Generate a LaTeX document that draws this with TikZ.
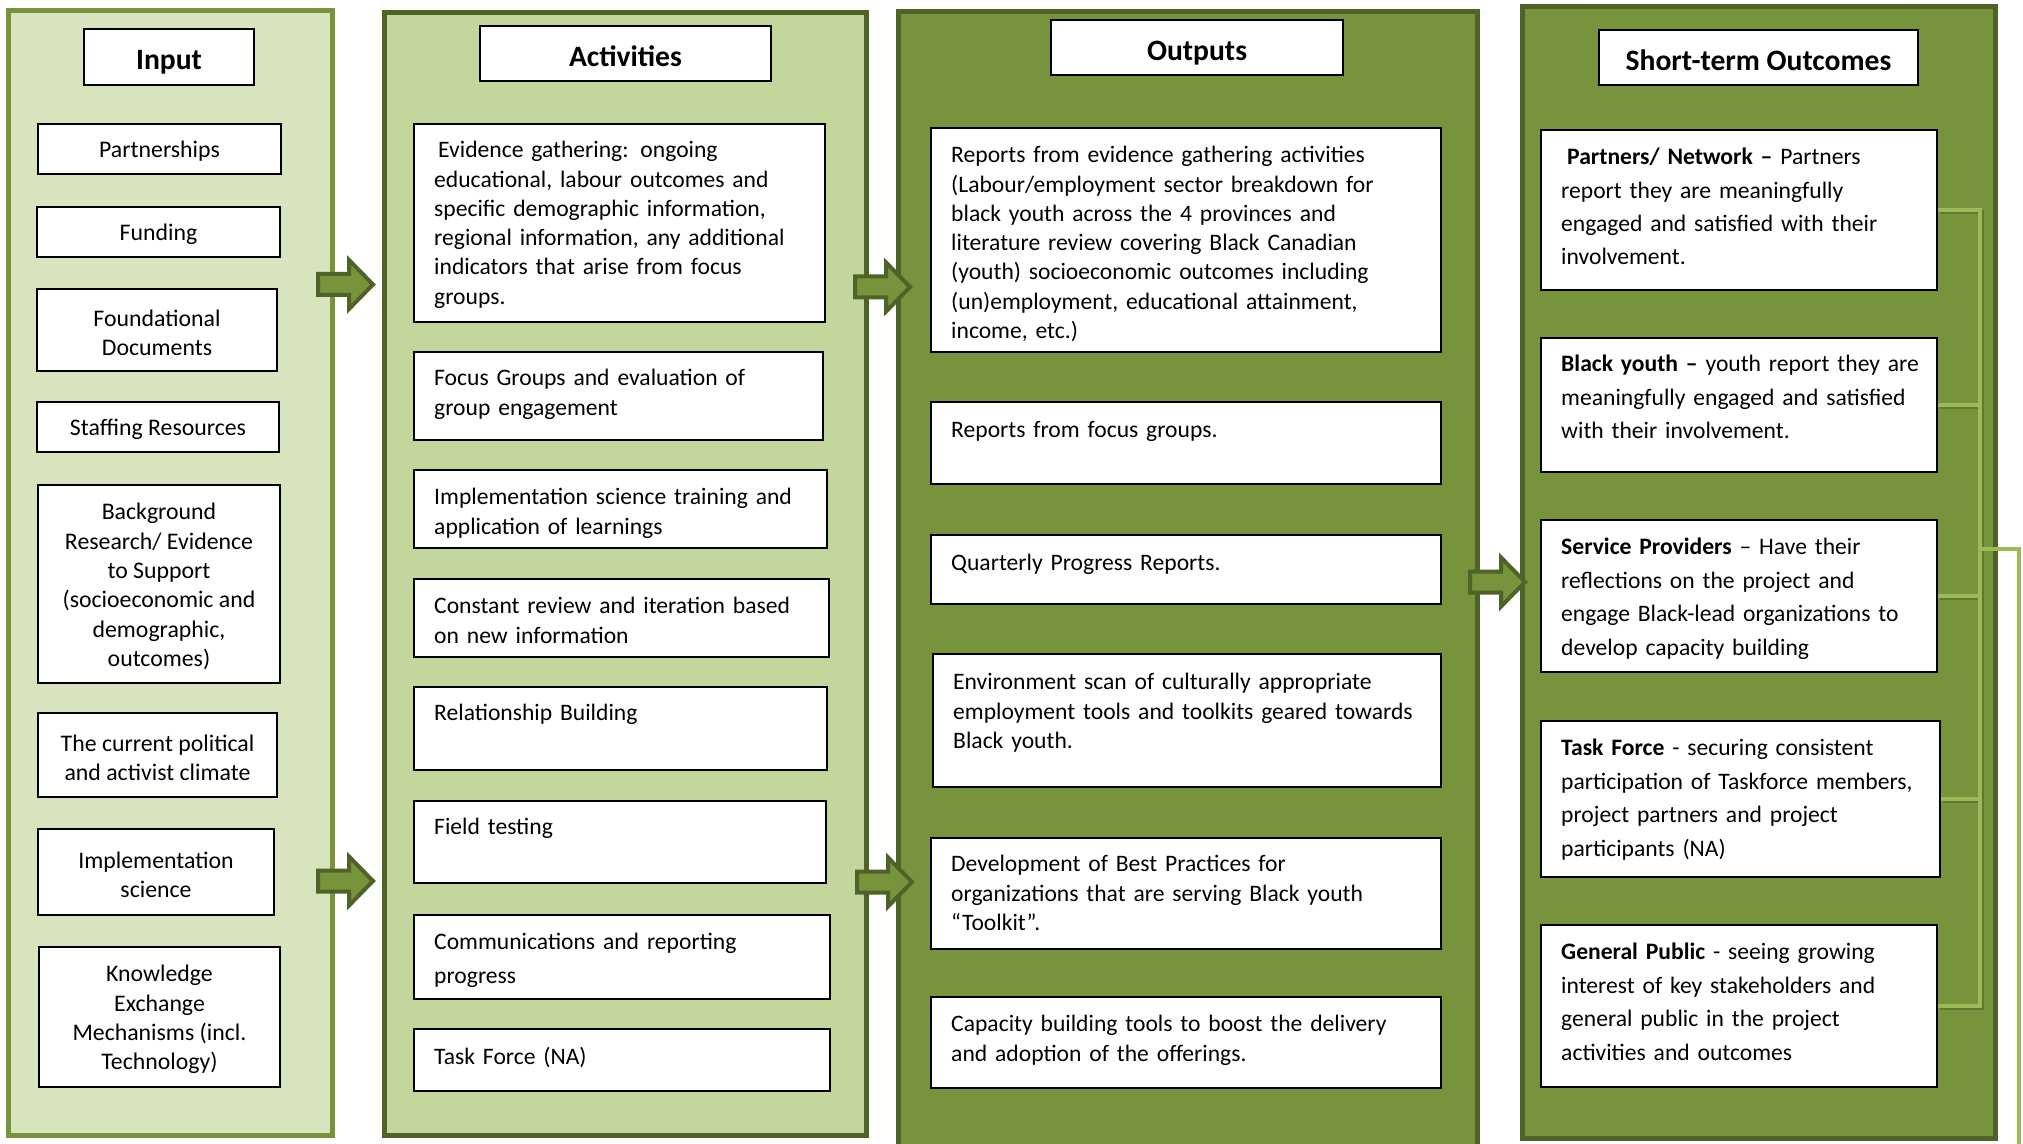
\documentclass[tikz,border=0pt]{standalone}
\usepackage{fontspec}
\setmainfont{Carlito}
\usetikzlibrary{calc}

\definecolor{inFill}{HTML}{D7E4BD}
\definecolor{actFill}{HTML}{C3D69B}
\definecolor{midGreen}{HTML}{77933C}
\definecolor{darkGreen}{HTML}{4F6228}
\definecolor{lightGreen}{HTML}{9BBB59}

\tikzset{
  colIn/.style={draw=midGreen, fill=inFill, line width=2.5pt},
  colAct/.style={draw=darkGreen, fill=actFill, line width=2.5pt},
  colOut/.style={draw=darkGreen, fill=midGreen, line width=2.5pt},
  titlebox/.style={draw=black, fill=white, line width=1.2pt,
    text height=13pt, text depth=0pt,
    font=\bfseries\fontsize{14.8pt}{17pt}\selectfont},
  plainbox/.style={draw=black, fill=white, line width=1.2pt},
  intext/.style={inner sep=0pt, align=center,
    font=\fontsize{11.9pt}{14.65pt}\selectfont},
  boxtext/.style={anchor=base west, inner sep=0pt, align=left,
    font=\fontsize{11.8pt}{14.65pt}\selectfont},
  widetext/.style={boxtext, font=\fontsize{11.8pt}{16.7pt}\selectfont},
  blockarrow/.style={fill=midGreen, draw=darkGreen, line width=2pt, line join=miter},
  bracketline/.style={draw=lightGreen, line width=2pt, line join=miter},
  bracketshade/.style={draw=darkGreen, line width=2pt, line join=miter, opacity=0.55},
}

% rectangle node from its corner coordinates (in px units)
\newcommand{\rbox}[7]{%
  \node[#1, inner sep=0pt, minimum width={(#5-#3)*0.5pt},
        minimum height={(#6-#4)*0.5pt}] (#2) at ({(#3+#5)/2},{(#4+#6)/2}) {#7};}

% block arrow: left end x, centre y
\newcommand{\barr}[2]{%
  \draw[blockarrow] ({#1},{#2-10.5}) -- ({#1+31},{#2-10.5}) -- ({#1+31},{#2-24.5})
    -- ({#1+55},{#2}) -- ({#1+31},{#2+24.5}) -- ({#1+31},{#2+10.5})
    -- ({#1},{#2+10.5}) -- cycle;}

\begin{document}
\begin{tikzpicture}[x=0.5pt,y=-0.5pt]
\useasboundingbox (0,0) rectangle (2023,1144);
\clip (0,0) rectangle (2023,1144);
\fill[white] (0,0) rectangle (2023,1144);

% columns
\rbox{colIn}{cIn}{8.5}{10.5}{332.5}{1135.5}{}
\rbox{colAct}{cAct}{384.5}{13}{866}{1135.5}{}
\rbox{colOut}{cOut}{898}{12}{1477}{1165}{}
\rbox{colOut}{cSt}{1522}{6.5}{1995.5}{1138.5}{}

% column titles
\rbox{titlebox}{tIn}{84}{29}{254}{85}{Input}
\rbox{titlebox}{tAct}{480}{26}{771}{81}{Activities}
\rbox{titlebox}{tOut}{1051}{20}{1343}{75}{Outputs}
\rbox{titlebox}{tSt}{1599}{30}{1918}{85}{Short-term Outcomes}

% inputs
\rbox{plainbox}{in1}{38}{124}{281}{174}{}
\rbox{plainbox}{in2}{37}{207}{280}{257}{}
\rbox{plainbox}{in3}{37}{289}{277}{371}{}
\rbox{plainbox}{in4}{37}{402}{279}{452}{}
\rbox{plainbox}{in5}{38}{485}{280}{683}{}
\rbox{plainbox}{in6}{38}{713}{277}{797}{}
\rbox{plainbox}{in7}{38}{829}{274}{915}{}
\rbox{plainbox}{in8}{39}{947}{280}{1087}{}

\begin{scope}[every node/.style={intext}]
\node (in1t) at ([yshift=-1.3pt]in1.center) {Partnerships};
\node (in2t) at ([yshift=-1.3pt]in2.center) {Funding};
\node (in3t) at ([yshift=-1.3pt]in3.center) {Foundational\\Documents};
\node (in4t) at ([yshift=-1.3pt]in4.center) {Staffing Resources};
\node (in5t) at ([yshift=-1.3pt]in5.center) {Background\\Research/ Evidence\\to Support\\(socioeconomic and\\demographic,\\outcomes)};
\node (in6t) at ([yshift=-1.3pt]in6.center) {The current political\\and activist climate};
\node (in7t) at ([yshift=-1.3pt]in7.center) {Implementation\\science};
\node (in8t) at ([yshift=-1.3pt]in8.center) {Knowledge\\Exchange\\Mechanisms (incl.\\Technology)};
\end{scope}

% activities
\rbox{plainbox}{ac1}{414}{124}{825}{322}{}
\rbox{plainbox}{ac2}{414}{352}{823}{440}{}
\rbox{plainbox}{ac3}{414}{470}{827}{548}{}
\rbox{plainbox}{ac4}{414}{579}{829}{657}{}
\rbox{plainbox}{ac5}{414}{687}{827}{770}{}
\rbox{plainbox}{ac6}{414}{801}{826}{883}{}
\rbox{plainbox}{ac7}{414}{915}{830}{999}{}
\rbox{plainbox}{ac8}{414}{1029}{830}{1091}{}

\begin{scope}[every node/.style={boxtext, text width=190pt}]
\node (ac1t) at ([xshift=10.5pt,yshift=-17.5pt]ac1.north west) {\hspace*{2pt}Evidence gathering: ongoing\\educational, labour outcomes and\\specific demographic information,\\regional information, any additional\\indicators that arise from focus\\groups.};
\node (ac2t) at ([xshift=10.5pt,yshift=-17.5pt]ac2.north west) {Focus Groups and evaluation of\\group engagement};
\node (ac3t) at ([xshift=10.5pt,yshift=-18pt]ac3.north west) {Implementation science training and\\application of learnings};
\node (ac4t) at ([xshift=10.5pt,yshift=-18pt]ac4.north west) {Constant review and iteration based\\on new information};
\node (ac5t) at ([xshift=10.5pt,yshift=-17.5pt]ac5.north west) {Relationship Building};
\node (ac6t) at ([xshift=10.5pt,yshift=-17.5pt]ac6.north west) {Field testing};
\node[widetext, text width=190pt] (ac7t) at ([xshift=10.5pt,yshift=-18pt]ac7.north west) {Communications and reporting\\progress};
\node (ac8t) at ([xshift=10.5pt,yshift=-18.5pt]ac8.north west) {Task Force (NA)};
\end{scope}

% outputs
\rbox{plainbox}{ou1}{931}{128}{1441}{352}{}
\rbox{plainbox}{ou2}{931}{402}{1441}{484}{}
\rbox{plainbox}{ou3}{931}{535}{1441}{604}{}
\rbox{plainbox}{ou4}{933}{654}{1441}{787}{}
\rbox{plainbox}{ou5}{931}{838}{1441}{949}{}
\rbox{plainbox}{ou6}{931}{997}{1441}{1088}{}

\begin{scope}[every node/.style={boxtext, text width=240pt}]
\node (ou1t) at ([xshift=10.5pt,yshift=-18pt]ou1.north west) {Reports from evidence gathering activities\\(Labour/employment sector breakdown for\\black youth across the 4 provinces and\\literature review covering Black Canadian\\(youth) socioeconomic outcomes including\\(un)employment, educational attainment,\\income, etc.)};
\node (ou2t) at ([xshift=10.5pt,yshift=-18.5pt]ou2.north west) {Reports from focus groups.};
\node (ou3t) at ([xshift=10.5pt,yshift=-18.5pt]ou3.north west) {Quarterly Progress Reports.};
\node (ou4t) at ([xshift=10.5pt,yshift=-18.5pt]ou4.north west) {Environment scan of culturally appropriate\\employment tools and toolkits geared towards\\Black youth.};
\node (ou5t) at ([xshift=10.5pt,yshift=-17.5pt]ou5.north west) {Development of Best Practices for\\organizations that are serving Black youth\\“Toolkit”.};
\node (ou6t) at ([xshift=10.5pt,yshift=-18pt]ou6.north west) {Capacity building tools to boost the delivery\\and adoption of the offerings.};
\end{scope}

% short-term outcomes
\rbox{plainbox}{st1}{1541}{130}{1937}{290}{}
\rbox{plainbox}{st2}{1541}{338}{1937}{472}{}
\rbox{plainbox}{st3}{1541}{520}{1937}{672}{}
\rbox{plainbox}{st4}{1541}{721}{1940}{877}{}
\rbox{plainbox}{st5}{1541}{925}{1937}{1087}{}

\begin{scope}[every node/.style={widetext, text width=188pt}]
\node (st1t) at ([xshift=10.5pt,yshift=-18pt]st1.north west) {\hspace*{3pt}\textbf{Partners/ Network –} Partners\\report they are meaningfully\\engaged and satisfied with their\\involvement.};
\node (st2t) at ([xshift=10.5pt,yshift=-17.5pt]st2.north west) {\textbf{Black youth –} youth report they are\\meaningfully engaged and satisfied\\with their involvement.};
\node (st3t) at ([xshift=10.5pt,yshift=-18pt]st3.north west) {\textbf{Service Providers} – Have their\\reflections on the project and\\engage Black-lead organizations to\\develop capacity building};
\node (st4t) at ([xshift=10.5pt,yshift=-18pt]st4.north west) {\textbf{Task Force} - securing consistent\\participation of Taskforce members,\\project partners and project\\participants (NA)};
\node (st5t) at ([xshift=10.5pt,yshift=-18pt]st5.north west) {\textbf{General Public} - seeing growing\\interest of key stakeholders and\\general public in the project\\activities and outcomes};
\end{scope}

% block arrows between the columns
\barr{318}{284.5}
\barr{318}{881}
\barr{855}{287}
\barr{857}{882}
\barr{1470}{582}

% bracket gathering the short-term outcomes
\coordinate (bx) at (1980,0);
\coordinate (bo) at (1980,549);
\coordinate (bn) at (2019,1170);
\begin{scope}[transform canvas={xshift=0.8pt,yshift=-1.2pt}]
  \draw[bracketshade] (st1.east) -- (st1.east -| bx) -- (st5.east -| bx) -- (st5.east);
  \foreach \n in {st2,st3,st4} \draw[bracketshade] (\n.east) -- (\n.east -| bx);
\end{scope}
\draw[bracketline] (st1.east) -- (st1.east -| bx) -- (st5.east -| bx) -- (st5.east);
\foreach \n in {st2,st3,st4} \draw[bracketline] (\n.east) -- (\n.east -| bx);
\draw[bracketline] (bo) -- (bo -| bn) -- (bn);
\end{tikzpicture}
\end{document}
